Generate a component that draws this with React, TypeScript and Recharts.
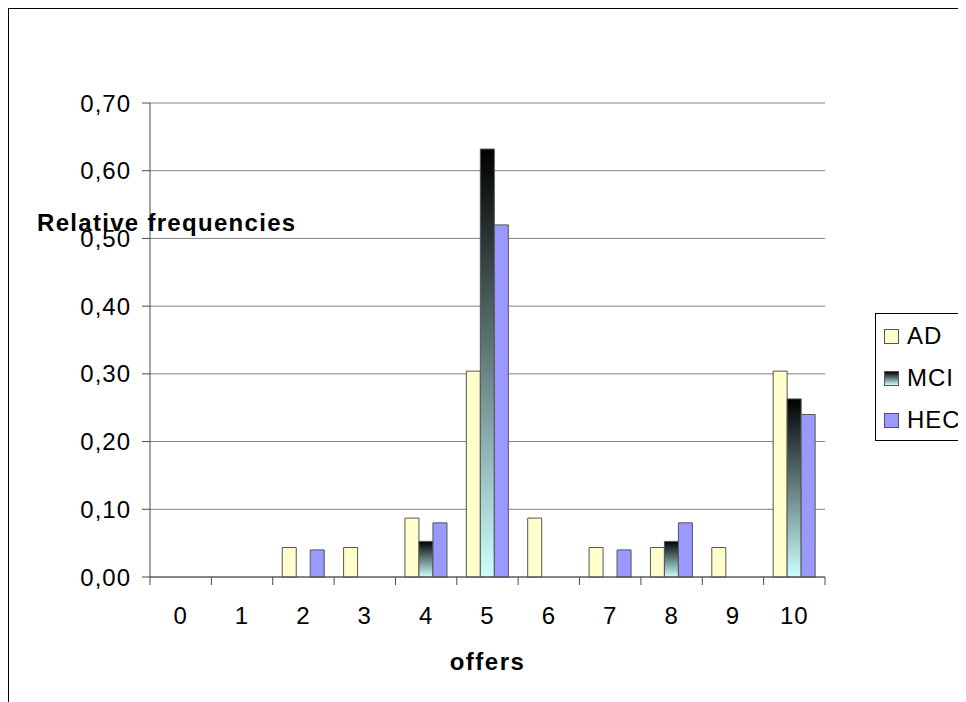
import React from "react";
import { BarChart, Bar, XAxis, YAxis, CartesianGrid, Label } from "recharts";

// offers 0..10, relative frequencies per group
const offers = ["0", "1", "2", "3", "4", "5", "6", "7", "8", "9", "10"];
const adValues = [0, 0, 0.0435, 0.0435, 0.087, 0.304, 0.087, 0.0435, 0.0435, 0.0435, 0.304];
const mciValues = [0, 0, 0, 0, 0.0526, 0.632, 0, 0, 0.0526, 0, 0.263];
const hecValues = [0, 0, 0.04, 0, 0.08, 0.52, 0, 0.04, 0.08, 0, 0.24];
const yTicks = [0, 0.1, 0.2, 0.3, 0.4, 0.5, 0.6, 0.7];

const series = [
  { key: "AD", fill: "#FFFFCC", swatch: "#FFFFCC" },
  { key: "MCI", fill: "url(#mciGrad)", swatch: "linear-gradient(#000000, #CCFFFF)" },
  { key: "HEC", fill: "#9999FF", swatch: "#9999FF" },
];

const data = offers.map((o, i) => ({
  offer: o,
  AD: adValues[i],
  MCI: mciValues[i],
  HEC: hecValues[i],
}));

const font = "'Liberation Sans', Arial, sans-serif";
const axisColor = "#4a4a4a";
const TICK_SIZE = 8;
const TICK_MARGIN = 22;

// Excel style: tick marks sit between categories, label in the middle
function OfferTick(props: any) {
  const { x, y, payload, index, visibleTicksCount } = props;
  const half = payload && payload.offset ? payload.offset : 0;
  const axisY = y - TICK_SIZE - TICK_MARGIN;
  return (
    <g>
      <line x1={x - half} x2={x - half} y1={axisY} y2={axisY + TICK_SIZE} stroke={axisColor} />
      {index === visibleTicksCount - 1 && (
        <line x1={x + half} x2={x + half} y1={axisY} y2={axisY + TICK_SIZE} stroke={axisColor} />
      )}
      <text
        x={x}
        y={y}
        dy="0.71em"
        textAnchor="middle"
        fill="#000"
        fontSize={24}
        fontFamily={font}
        style={{ letterSpacing: 1 }}
      >
        {payload.value}
      </text>
    </g>
  );
}

export default function App() {
  return (
    <div
      style={{
        position: "relative",
        width: 958,
        height: 694,
        overflow: "hidden",
        fontFamily: font,
        background: "#fff",
      }}
    >
      {/* outer chart frame, runs off the right and bottom edge */}
      <div
        style={{
          position: "absolute",
          left: 0,
          top: 0,
          width: 1200,
          height: 1000,
          border: "1px solid #000",
        }}
      />
      <div style={{ position: "absolute", left: 0, top: 0 }}>
        <BarChart
          width={958}
          height={694}
          data={data}
          margin={{ top: 95, right: 141, bottom: 25, left: 0 }}
          barCategoryGap="15.5%"
          barGap={0}
        >
          <defs>
            <linearGradient id="mciGrad" x1="0" y1="0" x2="0" y2="1">
              <stop offset="0%" stopColor="#000000" />
              <stop offset="100%" stopColor="#CCFFFF" />
            </linearGradient>
          </defs>
          <CartesianGrid vertical={false} stroke="#808080" />
          <XAxis
            dataKey="offer"
            height={100}
            stroke={axisColor}
            tickLine={false}
            tickSize={TICK_SIZE}
            tickMargin={TICK_MARGIN}
            interval={0}
            tick={<OfferTick />}
          >
            <Label
              value="offers"
              position="insideBottom"
              offset={7}
              style={{ fill: "#000", fontSize: 24, fontWeight: "bold", fontFamily: font, letterSpacing: 1.5 }}
            />
          </XAxis>
          <YAxis
            domain={[0, 0.7]}
            ticks={yTicks}
            width={142}
            tickSize={8}
            tickMargin={11}
            stroke={axisColor}
            tickFormatter={(v: number) => v.toFixed(2).replace(".", ",")}
            tick={{ fill: "#000", fontSize: 24, fontFamily: font, letterSpacing: 1 }}
          />
          <YAxis
            yAxisId="right"
            orientation="right"
            domain={[0, 1]}
            width={0}
            tick={false}
            tickLine={false}
            stroke="#808080"
          />
          {series.map((s) => (
            <Bar
              key={s.key}
              dataKey={s.key}
              fill={s.fill}
              stroke="#555"
              strokeWidth={1}
              isAnimationActive={false}
            />
          ))}
        </BarChart>
      </div>

      {/* y axis title, drawn over the plot like the original */}
      <div
        style={{
          position: "absolute",
          left: 29,
          top: 203,
          fontSize: 24,
          lineHeight: "24px",
          fontWeight: "bold",
          letterSpacing: 1.3,
          whiteSpace: "nowrap",
          color: "#000",
        }}
      >
        Relative frequencies
      </div>

      {/* legend */}
      <div
        style={{
          position: "absolute",
          left: 867,
          top: 305,
          width: 200,
          height: 126,
          border: "1px solid #000",
          background: "#fff",
        }}
      >
        {series.map((s, i) => (
          <div
            key={s.key}
            style={{
              position: "absolute",
              left: 8,
              top: 8 + i * 42,
              height: 28,
              display: "flex",
              alignItems: "center",
              fontSize: 24,
              letterSpacing: 1,
              color: "#000",
            }}
          >
            <span
              style={{
                display: "inline-block",
                width: 13,
                height: 13,
                border: "1px solid #555",
                background: s.swatch,
                marginRight: 8,
              }}
            />
            {s.key}
          </div>
        ))}
      </div>
    </div>
  );
}
